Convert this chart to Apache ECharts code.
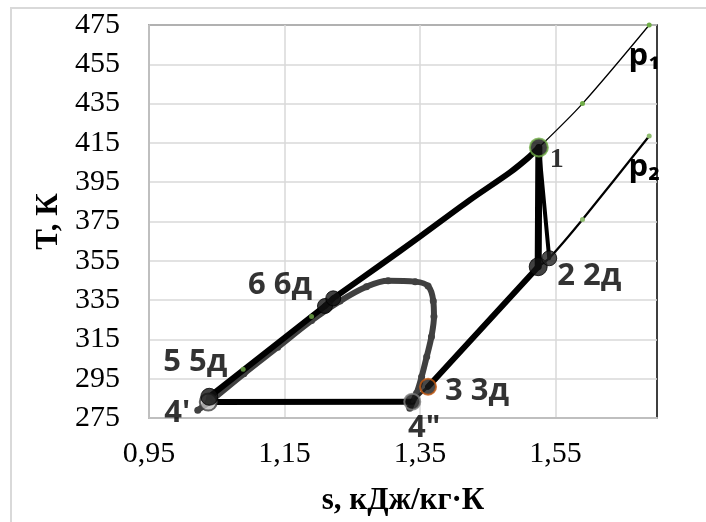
<!DOCTYPE html>
<html><head><meta charset="utf-8">
<script src="https://cdn.jsdelivr.net/npm/echarts@6/dist/echarts.min.js"></script>
<style>html,body{margin:0;padding:0;background:#fff}#c{width:706px;height:522px}</style>
</head><body><div id="c"></div>
<script>
// ---- data ----
const xTicks = [0.95, 1.15, 1.35, 1.55];
const yTicks = [275, 295, 315, 335, 355, 375, 395, 415, 435, 455, 475];
const isobarP1 = [[1.5256, 412.7], [1.59, 435], [1.6885, 475]];
const isobarP2 = [[1.5409, 356.3], [1.59, 376], [1.6885, 418.5]];
const liquidMarks = [[1.0375, 283], [1.089, 299.8], [1.19, 326.6]];
const saturation = [[1.022, 279], [1.04, 283.5], [1.09, 297.5], [1.14, 311], [1.19, 324.6], [1.232, 334.5], [1.271, 341.8], [1.303, 344.9], [1.343, 344.4], [1.362, 342.2], [1.3697, 334.6], [1.3707, 326.6], [1.367, 316.4], [1.36, 306.2], [1.3525, 296], [1.345, 287.6], [1.335, 280]];
const expansionCurve = [[1.5256, 412.7], [1.51, 407.5], [1.483, 400.0], [1.424, 386], [1.35, 367.3], [1.29, 352.5], [1.222, 335.9]];
const pointNames = ['1', '2', '2д', '3', '4"', "4'", '5', '6', '6д'];
const pointS = [1.5256, 1.5246, 1.5409, 1.362, 1.3387, 1.0375, 1.039, 1.2098, 1.222];
const pointT = [412.7, 352.0, 356.3, 290.9, 283.3, 283.1, 285.8, 332.0, 335.9];
const pointLabels = ['1', '2 2д', '', '3 3д', '4"', "4'", '5 5д', '6 6д', ''];
const isobarNames = ['p₁', 'p₂'];

// ---- helpers ----
const P = name => { const i = pointNames.indexOf(name); return [pointS[i], pointT[i]]; };
const seg = (names) => names.map(P);

const pointStyle = {
  '1':  {size: 18, color: '#111', border: '#70ad47', bw: 2},
  '2':  {size: 18, color: '#111', border: '#000', bw: 1},
  '2д': {size: 15, color: '#222', border: '#000', bw: 1},
  '3':  {size: 16, color: '#1a1a1a', border: '#c55a11', bw: 2},
  '4"': {size: 16, color: '#111', border: '#7f7f7f', bw: 2},
  "4'": {size: 17, color: '#bfbfbf', border: '#404040', bw: 2},
  '5':  {size: 17, color: '#111', border: '#000', bw: 1},
  '6':  {size: 15, color: '#111', border: '#000', bw: 1},
  '6д': {size: 15, color: '#111', border: '#000', bw: 1}
};
const labelOffset = {
  '1': [18, 12], '2 2д': [51, 9], '3 3д': [49, 4], '4"': [12, 26], "4'": [-31, 11], '5 5д': [-14, -35], '6 6д': [-45, -21]
};
const boldLabel = {fontFamily: 'Open Sans', fontWeight: 'bold', fontSize: 31, color: '#000'};

const thick = (name, data, w, color, smooth) => ({
  name, type: 'line', data, symbol: 'none', smooth: smooth || false, z: 3,
  lineStyle: {color: color || '#000', width: w, cap: 'round', join: 'round'}
});

const option = {
  animation: false,
  backgroundColor: '#fff',
  grid: {left: 149, top: 25, right: 49, bottom: 104, show: true, borderColor: '#000', borderWidth: 1.5, backgroundColor: 'transparent'},
  xAxis: {
    type: 'value', min: 0.95, max: 1.70,
    axisLine: {show: true, lineStyle: {color: '#bfbfbf', width: 2}},
    axisTick: {show: false, customValues: xTicks},
    axisLabel: {customValues: xTicks, margin: 21, fontFamily: 'Liberation Serif', fontSize: 30, color: '#000',
      formatter: v => v.toFixed(2).replace('.', ',')},
    splitLine: {show: true, lineStyle: {color: '#d9d9d9', width: 1.5}},
    name: 's, кДж/кг·К', nameLocation: 'middle', nameGap: 67,
    nameTextStyle: {fontFamily: 'Liberation Serif', fontWeight: 'bold', fontSize: 31, color: '#000'}
  },
  yAxis: {
    type: 'value', min: 275, max: 475,
    axisLine: {show: true, lineStyle: {color: '#bfbfbf', width: 2}},
    axisTick: {show: false, customValues: yTicks},
    axisLabel: {customValues: yTicks, margin: 29, fontFamily: 'Liberation Serif', fontSize: 30, color: '#000'},
    splitLine: {show: true, lineStyle: {color: '#d9d9d9', width: 1.5}},
    name: 'T, К', nameLocation: 'middle', nameGap: 84, nameRotate: 90,
    nameTextStyle: {fontFamily: 'Liberation Serif', fontWeight: 'bold', fontSize: 31, color: '#000'}
  },
  graphic: [{type: 'rect', shape: {x: 11, y: 8, width: 760, height: 600}, style: {fill: 'none', stroke: '#d9d9d9', lineWidth: 2}, z: -10}],
  series: [
    {
      name: 'p1', type: 'line', smooth: 0.3, z: 2,
      lineStyle: {color: '#000', width: 1.3},
      symbol: 'circle', symbolSize: 5, itemStyle: {color: '#70ad47', borderWidth: 0},
      data: isobarP1.map((v, i) => i === isobarP1.length - 1
        ? {value: v, label: {show: true, formatter: isobarNames[0], position: 'inside', offset: [-5, 31], ...boldLabel}}
        : {value: v, symbol: i === 0 ? 'none' : 'circle'})
    },
    {
      name: 'p2', type: 'line', smooth: 0.2, z: 2,
      lineStyle: {color: '#000', width: 2.2},
      symbol: 'circle', symbolSize: 5, itemStyle: {color: '#8fbc6f', borderWidth: 0},
      data: [P('2')].concat(isobarP2).map((v, i, a) => i === a.length - 1
        ? {value: v, label: {show: true, formatter: isobarNames[1], position: 'inside', offset: [-5, 31], ...boldLabel}}
        : {value: v, symbol: i < 2 ? 'none' : 'circle'})
    },
    {
      name: 'saturation', type: 'line', smooth: 0.35, z: 2,
      lineStyle: {color: '#404040', width: 6},
      symbol: 'circle', symbolSize: 7, itemStyle: {color: '#404040'},
      data: saturation.map((v, i) => i === 0 ? {value: v, symbolSize: 7} : v)
    },
    thick('c1', seg(['6', '5', "4'", '4"']), 6),
    thick('c2', seg(['4"', '3']), 3, '#262626'),
    thick('c3', seg(['3', '2']), 6),
    thick('c4', seg(['2', '1']), 7),
    thick('c5', seg(['1', '2д']), 4),
    thick('c6', expansionCurve, 6, '#000', 0.3),
    thick('c7', seg(['6д', '6']), 6),
    thick('c8', seg(['6д', '5']), 3),
    {
      name: 'liquid', type: 'scatter', z: 4, symbolSize: 5,
      itemStyle: {color: '#70ad47'}, data: liquidMarks
    },
    {
      name: 'points', type: 'scatter', z: 5,
      data: pointNames.map((n, i) => {
        const st = pointStyle[n];
        const lab = pointLabels[i];
        const item = {
          value: [pointS[i], pointT[i]], symbolSize: st.size,
          itemStyle: {color: st.color, borderColor: st.border, borderWidth: st.bw}
        };
        if (lab) {
          item.label = lab === '1'
            ? {show: true, formatter: lab, position: 'inside', offset: labelOffset[lab], fontFamily: 'Liberation Serif', fontWeight: 'bold', fontSize: 28, color: '#000'}
            : {show: true, formatter: lab, position: 'inside', offset: labelOffset[lab], ...boldLabel};
        }
        return item;
      })
    }
  ]
};
const chart = echarts.init(document.getElementById('c'), null, {renderer: 'canvas'});
chart.setOption(option);
</script></body></html>
